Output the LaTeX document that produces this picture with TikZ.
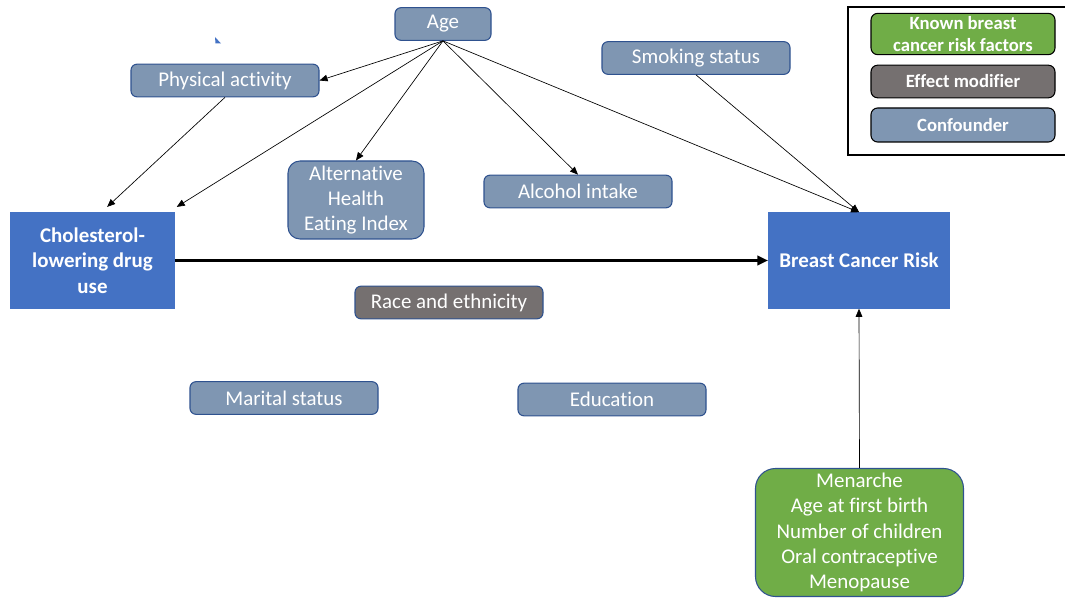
\documentclass[tikz,border=0pt]{standalone}
\usepackage{fontspec}
\setmainfont{Carlito}[Ligatures={NoCommon}]
\usetikzlibrary{arrows.meta}

\definecolor{confcol}{HTML}{7F96B2}
\definecolor{confline}{HTML}{2F528F}
\definecolor{mainblue}{HTML}{4472C4}
\definecolor{modcol}{HTML}{757070}
\definecolor{knowncol}{HTML}{70AD47}

\begin{document}
\begin{tikzpicture}[x=0.75pt,y=-0.75pt,
  conf/.style={fill=confcol, draw=confline, thick, rounded corners=4.5pt, text=white,
    minimum width=141pt, minimum height=24.5pt, inner sep=1pt, font=\fontsize{15.7}{19}\selectfont, align=center},
  mainbox/.style={fill=mainblue, draw=mainblue, text=white, minimum width=123pt, minimum height=72pt,
    inner sep=1pt, font=\bfseries\fontsize{15.7}{19}\selectfont, align=center},
  legbox/.style={draw=black, thick, rounded corners=5pt, text=white, minimum width=138pt,
    inner sep=1pt, font=\bfseries\fontsize{14}{16.5}\selectfont, align=center},
  arr/.style={-{Triangle[length=6pt,width=5pt]}, black, line width=0.5pt}]

\useasboundingbox (0,0) rectangle (1065,598);

% the stray little marker
\fill[mainblue] (215,37) -- (221,43.5) -- (215.5,43.5) -- cycle;

\coordinate (c1) at (92.5,260.5);
\coordinate (c2) at (859,260.5);

\node[mainbox] (chol) at (c1) {Cholesterol-\\lowering drug\\use};
\node[mainbox, minimum width=136pt] (bcr) at (c2) {Breast Cancer Risk};

\node[conf, minimum width=72pt] (age) at (443,24) {Age};
\node[conf] (phys) at (225,80.5) {Physical activity};
\node[conf] (smok) at (696,58) {Smoking status};
\node[conf, minimum width=102pt, minimum height=58.5pt, rounded corners=9pt] (ahei) at (356,200) {Alternative\\Health\\Eating Index};
\node[conf] (alc) at (578,191.5) {Alcohol intake};
\node[conf, fill=modcol] (race) at (449,302.5) {Race and ethnicity};
\node[conf] (mar) at (284,398) {Marital status};
\node[conf] (edu) at (612,399.5) {Education};
\node[conf, fill=knowncol, minimum width=156pt, minimum height=96pt, rounded corners=15pt] (known) at (859.5,532.5)
  {Menarche\\Age at first birth\\Number of children\\Oral contraceptive\\Menopause};

% legend
\draw[black, thick] (1066,7) -- (848,7) -- (848,155) -- (1066,155);
\node[legbox, fill=knowncol, minimum height=31pt] (lknown) at (963,34) {Known breast\\cancer risk factors};
\node[legbox, fill=modcol, minimum height=24.5pt] (lmod) at (963,81.5) {Effect modifier};
\node[legbox, fill=confcol, minimum height=25.5pt] (lconf) at (963,125) {Confounder};

\draw[arr] (age.south) -- (phys.east);
\draw[arr] (age.south) -- ([xshift=1.5pt,yshift=4pt]chol.north east);
\draw[arr] (age.south) -- (ahei.north);
\draw[arr] (age.south) -- (alc.north);
\draw[arr] (age.south) -- (bcr.north);
\draw[arr] (smok.south) -- (bcr.north);
\draw[arr] (phys.south) -- ([xshift=11pt,yshift=4pt]chol.north);
\draw[arr] (known.north) -- (bcr.south);
\draw[-{Triangle[length=8pt,width=7pt]}, line width=2.25pt] (chol.east) -- (bcr.west);
\end{tikzpicture}
\end{document}
